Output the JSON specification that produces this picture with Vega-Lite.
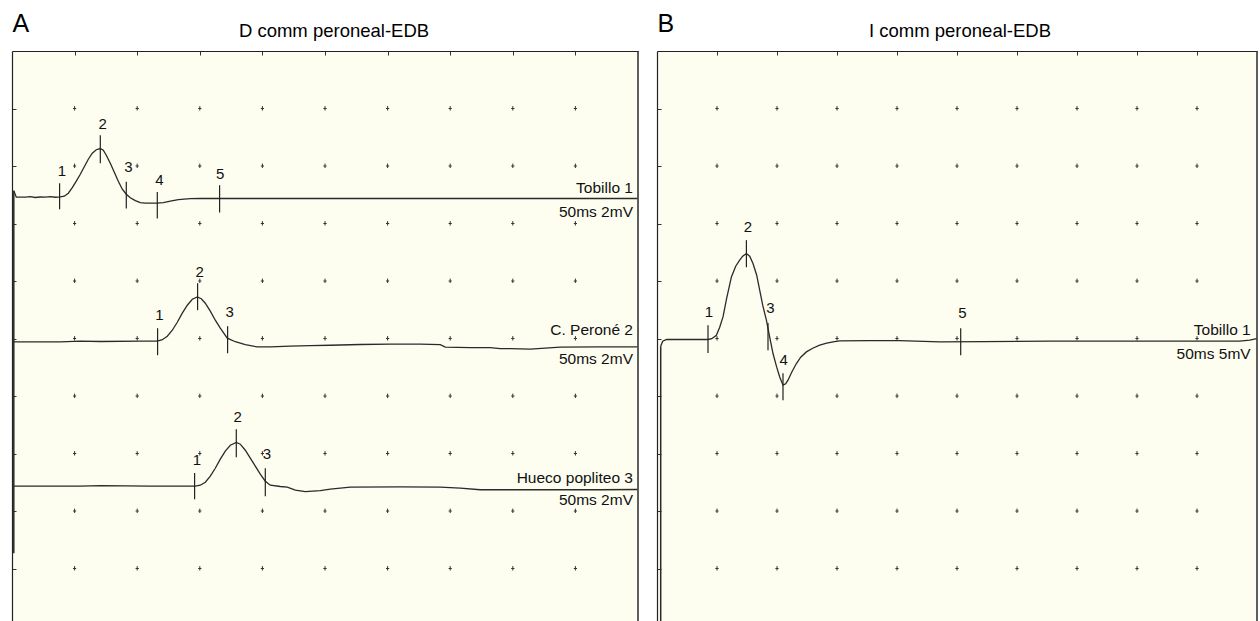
{
  "$schema": "https://vega.github.io/schema/vega-lite/v6.json",
  "background": "white",
  "padding": {"left": 11, "top": 11, "right": 0, "bottom": 0},
  "spacing": 16,
  "config": {
    "font": "Liberation Sans",
    "view": {"fill": "#fdfdf0", "stroke": null},
    "axis": {"labels": false, "grid": false, "domain": true, "domainColor": "#222", "domainWidth": 1.2, "tickSize": -4, "tickColor": "#333", "tickWidth": 1}
  },
  "datasets": {
    "traces": [
      {"panel":"A","trace":"A1","t":0.144,"v":2.43},{"panel":"A","trace":"A1","t":0.343,"v":2.543},{"panel":"A","trace":"A1","t":1.062,"v":2.543},{"panel":"A","trace":"A1","t":1.462,"v":2.534},{"panel":"A","trace":"A1","t":1.861,"v":2.548},{"panel":"A","trace":"A1","t":2.26,"v":2.539},{"panel":"A","trace":"A1","t":2.66,"v":2.543},{"panel":"A","trace":"A1","t":3.059,"v":2.534},{"panel":"A","trace":"A1","t":3.458,"v":2.543},{"panel":"A","trace":"A1","t":3.858,"v":2.537},{"panel":"A","trace":"A1","t":4.177,"v":2.525},{"panel":"A","trace":"A1","t":4.497,"v":2.473},{"panel":"A","trace":"A1","t":4.816,"v":2.377},{"panel":"A","trace":"A1","t":5.136,"v":2.264},{"panel":"A","trace":"A1","t":5.455,"v":2.143},{"panel":"A","trace":"A1","t":5.775,"v":2.012},{"panel":"A","trace":"A1","t":6.094,"v":1.882},{"panel":"A","trace":"A1","t":6.414,"v":1.777},{"panel":"A","trace":"A1","t":6.733,"v":1.717},{"panel":"A","trace":"A1","t":7.053,"v":1.696},{"panel":"A","trace":"A1","t":7.292,"v":1.725},{"panel":"A","trace":"A1","t":7.532,"v":1.812},{"panel":"A","trace":"A1","t":7.851,"v":1.951},{"panel":"A","trace":"A1","t":8.171,"v":2.108},{"panel":"A","trace":"A1","t":8.49,"v":2.264},{"panel":"A","trace":"A1","t":8.81,"v":2.403},{"panel":"A","trace":"A1","t":9.129,"v":2.49},{"panel":"A","trace":"A1","t":9.449,"v":2.551},{"panel":"A","trace":"A1","t":9.848,"v":2.603},{"panel":"A","trace":"A1","t":10.248,"v":2.638},{"panel":"A","trace":"A1","t":10.647,"v":2.647},{"panel":"A","trace":"A1","t":11.046,"v":2.647},{"panel":"A","trace":"A1","t":11.605,"v":2.647},{"panel":"A","trace":"A1","t":12.085,"v":2.638},{"panel":"A","trace":"A1","t":12.644,"v":2.612},{"panel":"A","trace":"A1","t":13.283,"v":2.586},{"panel":"A","trace":"A1","t":14.241,"v":2.569},{"panel":"A","trace":"A1","t":15.04,"v":2.565},{"panel":"A","trace":"A1","t":23.027,"v":2.565},{"panel":"A","trace":"A1","t":31.014,"v":2.565},{"panel":"A","trace":"A1","t":39.001,"v":2.565},{"panel":"A","trace":"A1","t":49.95,"v":2.565},
      {"panel":"A","trace":"A2","t":0.144,"v":5.059},{"panel":"A","trace":"A2","t":3.858,"v":5.059},{"panel":"A","trace":"A2","t":5.455,"v":5.047},{"panel":"A","trace":"A2","t":7.053,"v":5.052},{"panel":"A","trace":"A2","t":10.248,"v":5.047},{"panel":"A","trace":"A2","t":11.605,"v":5.047},{"panel":"A","trace":"A2","t":12.005,"v":5.021},{"panel":"A","trace":"A2","t":12.404,"v":4.96},{"panel":"A","trace":"A2","t":12.803,"v":4.856},{"panel":"A","trace":"A2","t":13.203,"v":4.717},{"panel":"A","trace":"A2","t":13.602,"v":4.56},{"panel":"A","trace":"A2","t":14.002,"v":4.421},{"panel":"A","trace":"A2","t":14.401,"v":4.317},{"panel":"A","trace":"A2","t":14.8,"v":4.277},{"panel":"A","trace":"A2","t":15.12,"v":4.308},{"panel":"A","trace":"A2","t":15.439,"v":4.386},{"panel":"A","trace":"A2","t":15.839,"v":4.525},{"panel":"A","trace":"A2","t":16.238,"v":4.682},{"panel":"A","trace":"A2","t":16.637,"v":4.821},{"panel":"A","trace":"A2","t":17.196,"v":4.995},{"panel":"A","trace":"A2","t":17.835,"v":5.056},{"panel":"A","trace":"A2","t":18.634,"v":5.108},{"panel":"A","trace":"A2","t":19.593,"v":5.146},{"panel":"A","trace":"A2","t":20.631,"v":5.146},{"panel":"A","trace":"A2","t":22.228,"v":5.134},{"panel":"A","trace":"A2","t":23.826,"v":5.125},{"panel":"A","trace":"A2","t":25.423,"v":5.117},{"panel":"A","trace":"A2","t":27.819,"v":5.104},{"panel":"A","trace":"A2","t":30.216,"v":5.099},{"panel":"A","trace":"A2","t":32.612,"v":5.099},{"panel":"A","trace":"A2","t":34.209,"v":5.108},{"panel":"A","trace":"A2","t":34.609,"v":5.151},{"panel":"A","trace":"A2","t":36.605,"v":5.157},{"panel":"A","trace":"A2","t":38.203,"v":5.16},{"panel":"A","trace":"A2","t":39.001,"v":5.177},{"panel":"A","trace":"A2","t":39.8,"v":5.177},{"panel":"A","trace":"A2","t":41.397,"v":5.186},{"panel":"A","trace":"A2","t":42.596,"v":5.169},{"panel":"A","trace":"A2","t":43.794,"v":5.151},{"panel":"A","trace":"A2","t":46.989,"v":5.146},{"panel":"A","trace":"A2","t":49.95,"v":5.146},
      {"panel":"A","trace":"A3","t":0.144,"v":7.569},{"panel":"A","trace":"A3","t":5.455,"v":7.569},{"panel":"A","trace":"A3","t":7.053,"v":7.56},{"panel":"A","trace":"A3","t":11.046,"v":7.569},{"panel":"A","trace":"A3","t":14.641,"v":7.569},{"panel":"A","trace":"A3","t":15.04,"v":7.551},{"panel":"A","trace":"A3","t":15.439,"v":7.499},{"panel":"A","trace":"A3","t":15.839,"v":7.395},{"panel":"A","trace":"A3","t":16.238,"v":7.256},{"panel":"A","trace":"A3","t":16.637,"v":7.099},{"panel":"A","trace":"A3","t":17.037,"v":6.96},{"panel":"A","trace":"A3","t":17.436,"v":6.856},{"panel":"A","trace":"A3","t":17.915,"v":6.809},{"panel":"A","trace":"A3","t":18.235,"v":6.838},{"panel":"A","trace":"A3","t":18.634,"v":6.943},{"panel":"A","trace":"A3","t":19.034,"v":7.082},{"panel":"A","trace":"A3","t":19.433,"v":7.221},{"panel":"A","trace":"A3","t":19.832,"v":7.36},{"panel":"A","trace":"A3","t":20.232,"v":7.482},{"panel":"A","trace":"A3","t":20.631,"v":7.551},{"panel":"A","trace":"A3","t":21.43,"v":7.574},{"panel":"A","trace":"A3","t":21.989,"v":7.586},{"panel":"A","trace":"A3","t":22.628,"v":7.638},{"panel":"A","trace":"A3","t":23.427,"v":7.664},{"panel":"A","trace":"A3","t":24.624,"v":7.647},{"panel":"A","trace":"A3","t":25.423,"v":7.621},{"panel":"A","trace":"A3","t":27.021,"v":7.586},{"panel":"A","trace":"A3","t":31.014,"v":7.581},{"panel":"A","trace":"A3","t":34.209,"v":7.586},{"panel":"A","trace":"A3","t":35.807,"v":7.603},{"panel":"A","trace":"A3","t":37.404,"v":7.63},{"panel":"A","trace":"A3","t":42.995,"v":7.63},{"panel":"A","trace":"A3","t":46.989,"v":7.63},{"panel":"A","trace":"A3","t":49.95,"v":7.626},
      {"panel":"B","trace":"B1","t":0.308,"v":5.134},{"panel":"B","trace":"B1","t":0.475,"v":5.047},{"panel":"B","trace":"B1","t":0.808,"v":5.017},{"panel":"B","trace":"B1","t":2.725,"v":5.017},{"panel":"B","trace":"B1","t":4.25,"v":5.017},{"panel":"B","trace":"B1","t":4.558,"v":5.003},{"panel":"B","trace":"B1","t":4.95,"v":4.943},{"panel":"B","trace":"B1","t":5.225,"v":4.803},{"panel":"B","trace":"B1","t":5.5,"v":4.624},{"panel":"B","trace":"B1","t":5.808,"v":4.299},{"panel":"B","trace":"B1","t":6.2,"v":3.929},{"panel":"B","trace":"B1","t":6.558,"v":3.743},{"panel":"B","trace":"B1","t":6.892,"v":3.638},{"panel":"B","trace":"B1","t":7.142,"v":3.569},{"panel":"B","trace":"B1","t":7.45,"v":3.522},{"panel":"B","trace":"B1","t":7.725,"v":3.569},{"panel":"B","trace":"B1","t":8.0,"v":3.696},{"panel":"B","trace":"B1","t":8.308,"v":3.899},{"panel":"B","trace":"B1","t":8.558,"v":4.16},{"panel":"B","trace":"B1","t":8.808,"v":4.421},{"panel":"B","trace":"B1","t":9.117,"v":4.682},{"panel":"B","trace":"B1","t":9.392,"v":4.977},{"panel":"B","trace":"B1","t":9.667,"v":5.261},{"panel":"B","trace":"B1","t":9.975,"v":5.499},{"panel":"B","trace":"B1","t":10.225,"v":5.668},{"panel":"B","trace":"B1","t":10.5,"v":5.812},{"panel":"B","trace":"B1","t":10.725,"v":5.786},{"panel":"B","trace":"B1","t":10.917,"v":5.725},{"panel":"B","trace":"B1","t":11.225,"v":5.586},{"panel":"B","trace":"B1","t":11.617,"v":5.435},{"panel":"B","trace":"B1","t":11.975,"v":5.325},{"panel":"B","trace":"B1","t":12.45,"v":5.233},{"panel":"B","trace":"B1","t":12.975,"v":5.169},{"panel":"B","trace":"B1","t":13.558,"v":5.117},{"panel":"B","trace":"B1","t":14.142,"v":5.082},{"panel":"B","trace":"B1","t":14.667,"v":5.059},{"panel":"B","trace":"B1","t":15.225,"v":5.042},{"panel":"B","trace":"B1","t":17.725,"v":5.038},{"panel":"B","trace":"B1","t":20.225,"v":5.038},{"panel":"B","trace":"B1","t":23.558,"v":5.059},{"panel":"B","trace":"B1","t":27.308,"v":5.056},{"panel":"B","trace":"B1","t":32.725,"v":5.047},{"panel":"B","trace":"B1","t":36.892,"v":5.047},{"panel":"B","trace":"B1","t":41.058,"v":5.047},{"panel":"B","trace":"B1","t":45.225,"v":5.047},{"panel":"B","trace":"B1","t":48.558,"v":5.047},{"panel":"B","trace":"B1","t":49.392,"v":5.03},{"panel":"B","trace":"B1","t":49.975,"v":5.003}
    ],
    "rules": [
      {"panel":"A","kind":"artifact","t":0.144,"v":2.43,"v2":8.734},
      {"panel":"B","kind":"artifact","t":0.308,"v":5.134,"v2":9.913},
      {"panel":"A","kind":"frame","t":50,"v":0,"v2":9.913},
      {"panel":"B","kind":"frame","t":50,"v":0,"v2":9.913}
    ],
    "markers": [
      {"panel":"A","t":3.802,"v":2.299,"v2":2.751},{"panel":"A","t":7.053,"v":1.464,"v2":1.951},{"panel":"A","t":9.129,"v":2.276,"v2":2.739},{"panel":"A","t":11.605,"v":2.45,"v2":2.913},{"panel":"A","t":16.581,"v":2.334,"v2":2.809},
      {"panel":"A","t":11.629,"v":4.821,"v2":5.29},{"panel":"A","t":14.824,"v":4.038,"v2":4.508},{"panel":"A","t":17.22,"v":4.786,"v2":5.256},
      {"panel":"A","t":14.585,"v":7.337,"v2":7.795},{"panel":"A","t":17.915,"v":6.577,"v2":7.064},{"panel":"A","t":20.232,"v":7.256,"v2":7.743},
      {"panel":"B","t":4.25,"v":4.769,"v2":5.25},{"panel":"B","t":7.45,"v":3.29,"v2":3.76},{"panel":"B","t":9.25,"v":4.729,"v2":5.203},{"panel":"B","t":10.5,"v":5.603,"v2":6.073},{"panel":"B","t":25.308,"v":4.821,"v2":5.29}
    ],
    "numbers": [
      {"panel":"A","label":"1","t":3.994,"v":2.177},{"panel":"A","label":"2","t":7.236,"v":1.348},{"panel":"A","label":"3","t":9.289,"v":2.103},{"panel":"A","label":"4","t":11.765,"v":2.334},{"panel":"A","label":"5","t":16.637,"v":2.23},
      {"panel":"A","label":"1","t":11.765,"v":4.682},{"panel":"A","label":"2","t":14.984,"v":3.929},{"panel":"A","label":"3","t":17.38,"v":4.624},
      {"panel":"A","label":"1","t":14.776,"v":7.203},{"panel":"A","label":"2","t":18.019,"v":6.45},{"panel":"A","label":"3","t":20.367,"v":7.104},
      {"panel":"B","label":"1","t":4.333,"v":4.624},{"panel":"B","label":"2","t":7.583,"v":3.146},{"panel":"B","label":"3","t":9.45,"v":4.565},{"panel":"B","label":"4","t":10.558,"v":5.464},{"panel":"B","label":"5","t":25.45,"v":4.652}
    ],
    "labels": [
      {"panel":"A","label":"Tobillo 1","t":49.6,"v":2.468},{"panel":"A","label":"50ms 2mV","t":49.6,"v":2.885},
      {"panel":"A","label":"C. Peroné 2","t":49.6,"v":4.943},{"panel":"A","label":"50ms 2mV","t":49.6,"v":5.435},
      {"panel":"A","label":"Hueco popliteo 3","t":49.6,"v":7.508},{"panel":"A","label":"50ms 2mV","t":49.6,"v":7.899},
      {"panel":"B","label":"Tobillo 1","t":49.475,"v":4.943},{"panel":"B","label":"50ms 5mV","t":49.475,"v":5.365}
    ]
  },
  "hconcat": [
    {
      "width": 626,
      "height": 570,
      "title": {"text": "D comm peroneal-EDB", "anchor": "middle", "frame": "group", "fontSize": 18.5, "fontWeight": "normal", "color": "#000", "baseline": "alphabetic", "offset": -44.5, "dx": 9},
      "encoding": {
        "x": {"field": "t", "type": "quantitative", "scale": {"domain": [0, 50], "nice": false, "zero": false},
              "axis": {"orient": "top", "values": [5,10,15,20,25,30,35,40,45], "title": "A", "titleAnchor": "start", "titleAlign": "left", "titleBaseline": "alphabetic", "titleFontSize": 25, "titleFontWeight": "normal", "titleColor": "#000", "titlePadding": 19.5}},
        "y": {"field": "v", "type": "quantitative", "scale": {"domain": [0, 9.913], "nice": false, "zero": false, "reverse": true},
              "axis": {"orient": "left", "values": [1,2,3,4,5,6,7,8,9], "title": null}}
      },
      "layer": [
        {"data": {"values": [{"t": [5,10,15,20,25,30,35,40,45], "v": [1,2,3,4,5,6,7,8,9]}]},
         "transform": [{"flatten": ["t"]}, {"flatten": ["v"]}],
         "mark": {"type": "point", "shape": "M0,-1.2L0,1M-0.8,0L0.8,0", "size": 16, "filled": false, "stroke": "#333", "strokeWidth": 1, "opacity": 1}},
        {"data": {"name": "rules"}, "transform": [{"filter": "datum.panel === 'A'"}],
         "mark": {"type": "rule", "stroke": "#2a2a2a", "strokeWidth": 1.5},
         "encoding": {"y2": {"field": "v2"}}},
        {"data": {"name": "traces"}, "transform": [{"filter": "datum.panel === 'A'"}],
         "mark": {"type": "line", "stroke": "#2a2a2a", "strokeWidth": 1.3},
         "encoding": {"detail": {"field": "trace"}}},
        {"data": {"name": "markers"}, "transform": [{"filter": "datum.panel === 'A'"}],
         "mark": {"type": "rule", "stroke": "#222", "strokeWidth": 1.2},
         "encoding": {"y2": {"field": "v2"}}},
        {"data": {"name": "numbers"}, "transform": [{"filter": "datum.panel === 'A'"}],
         "mark": {"type": "text", "align": "center", "baseline": "alphabetic", "fontSize": 15, "color": "#111"},
         "encoding": {"text": {"field": "label"}}},
        {"data": {"name": "labels"}, "transform": [{"filter": "datum.panel === 'A'"}],
         "mark": {"type": "text", "align": "right", "baseline": "alphabetic", "fontSize": 15.5, "color": "#111"},
         "encoding": {"text": {"field": "label"}}}
      ]
    },
    {
      "width": 600,
      "height": 570,
      "title": {"text": "I comm peroneal-EDB", "anchor": "middle", "frame": "group", "fontSize": 18.5, "fontWeight": "normal", "color": "#000", "baseline": "alphabetic", "offset": -44.5, "dx": 3},
      "encoding": {
        "x": {"field": "t", "type": "quantitative", "scale": {"domain": [0, 50], "nice": false, "zero": false},
              "axis": {"orient": "top", "values": [5,10,15,20,25,30,35,40,45], "title": "B", "titleAnchor": "start", "titleAlign": "left", "titleBaseline": "alphabetic", "titleFontSize": 25, "titleFontWeight": "normal", "titleColor": "#000", "titlePadding": 19.5}},
        "y": {"field": "v", "type": "quantitative", "scale": {"domain": [0, 9.913], "nice": false, "zero": false, "reverse": true},
              "axis": {"orient": "left", "values": [1,2,3,4,5,6,7,8,9], "title": null}}
      },
      "layer": [
        {"data": {"values": [{"t": [5,10,15,20,25,30,35,40,45], "v": [1,2,3,4,5,6,7,8,9]}]},
         "transform": [{"flatten": ["t"]}, {"flatten": ["v"]}],
         "mark": {"type": "point", "shape": "M0,-1.2L0,1M-0.8,0L0.8,0", "size": 16, "filled": false, "stroke": "#333", "strokeWidth": 1, "opacity": 1}},
        {"data": {"name": "rules"}, "transform": [{"filter": "datum.panel === 'B'"}],
         "mark": {"type": "rule", "stroke": "#2a2a2a", "strokeWidth": 1.5},
         "encoding": {"y2": {"field": "v2"}}},
        {"data": {"name": "traces"}, "transform": [{"filter": "datum.panel === 'B'"}],
         "mark": {"type": "line", "stroke": "#2a2a2a", "strokeWidth": 1.3},
         "encoding": {"detail": {"field": "trace"}}},
        {"data": {"name": "markers"}, "transform": [{"filter": "datum.panel === 'B'"}],
         "mark": {"type": "rule", "stroke": "#222", "strokeWidth": 1.2},
         "encoding": {"y2": {"field": "v2"}}},
        {"data": {"name": "numbers"}, "transform": [{"filter": "datum.panel === 'B'"}],
         "mark": {"type": "text", "align": "center", "baseline": "alphabetic", "fontSize": 15, "color": "#111"},
         "encoding": {"text": {"field": "label"}}},
        {"data": {"name": "labels"}, "transform": [{"filter": "datum.panel === 'B'"}],
         "mark": {"type": "text", "align": "right", "baseline": "alphabetic", "fontSize": 15.5, "color": "#111"},
         "encoding": {"text": {"field": "label"}}}
      ]
    }
  ]
}
